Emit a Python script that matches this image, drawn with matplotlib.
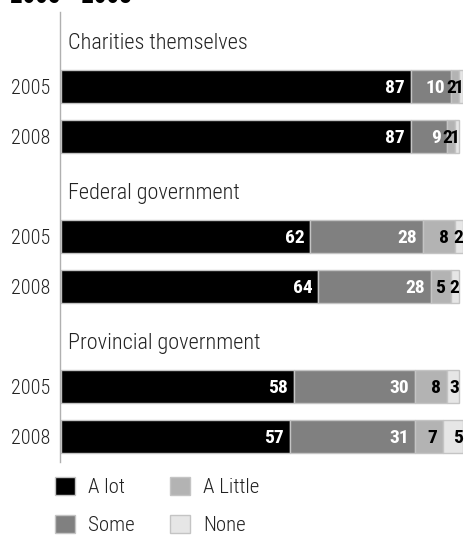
import matplotlib.pyplot as plt
from matplotlib.patches import Patch
import numpy as np

plt.rcParams['font.family'] = ['Roboto Condensed', 'DejaVu Sans']
plt.rcParams['font.weight'] = 'light'

groups = ["Charities themselves", "Federal government", "Provincial government"]
years = ["2005", "2008"]
levels = ["A lot", "Some", "A Little", "None"]
colors = ["#000000", "#808080", "#b3b3b3", "#e6e6e6"]
label_colors = ["white", "white", "black", "black"]

# one row per (group, year), values in percent
a_lot = [87, 87, 62, 64, 58, 57]
some = [10, 9, 28, 28, 30, 31]
a_little = [2, 2, 8, 5, 8, 7]
none = [1, 1, 2, 2, 3, 5]

W, H = 466, 536
fig = plt.figure(figsize=(W / 100, H / 100), dpi=100)
ax = fig.add_axes([61 / W, (H - 462) / H, 402 / W, 450 / H])

# each group takes three rows: a title row then the two years
ypos = []
for g in range(len(groups)):
    ypos += [3 * g + 1, 3 * g + 2]
ypos = np.array(ypos)

series = [a_lot, some, a_little, none]
left = np.zeros(len(ypos))
for k, (vals, col, tcol) in enumerate(zip(series, colors, label_colors)):
    vals = np.array(vals, dtype=float)
    ax.barh(ypos, vals, left=left, height=0.66, color=col,
            edgecolor="#c4c4c4", linewidth=1.0)
    for y, l, v in zip(ypos, left, vals):
        # last segment labels hug the bar end, the rest sit just inside
        pad = 0.0 if k == len(series) - 1 else min(1.5, 0.35 * v)
        ax.text(l + v - pad, y + 0.03, f"{v:g}", ha="right", va="center",
                color=tcol, fontsize=14, fontweight="bold")
    left += vals

for g, name in enumerate(groups):
    ax.text(1.8, 3 * g + 0.13, name, ha="left", va="center", fontsize=16,
            color="#222222")

ax.set_xlim(0, 100)
ax.set_ylim(8.51, -0.49)
ax.set_yticks(ypos)
ax.set_yticklabels(years * len(groups))
ax.tick_params(axis="y", length=0, pad=7, labelsize=14.5, labelcolor="#222222")
ax.set_xticks([])
for side in ["top", "right", "bottom"]:
    ax.spines[side].set_visible(False)
ax.spines["left"].set_color("#b0b0b0")
ax.spines["left"].set_linewidth(1.0)
ax.spines["left"].set_position(("outward", 1))

handles = [Patch(facecolor=c, edgecolor="#c4c4c4", label=l)
           for c, l in zip(colors, levels)]
leg = fig.legend(handles=handles, labels=levels, ncol=2, frameon=False,
                 loc="upper left", bbox_to_anchor=(55 / W, 1 - 477 / H),
                 prop={"size": 15}, handlelength=0.96, handleheight=0.96,
                 handletextpad=0.62, columnspacing=1.7, labelspacing=0.86,
                 borderpad=0, borderaxespad=0)
for t in leg.get_texts():
    t.set_color("#222222")

# heading sits mostly above the top edge
fig.text(10 / W, 1 - 3 / H, "2005 - 2008", ha="left", va="baseline",
         fontsize=18, fontweight="bold")

fig.savefig("out.png", dpi=100)
